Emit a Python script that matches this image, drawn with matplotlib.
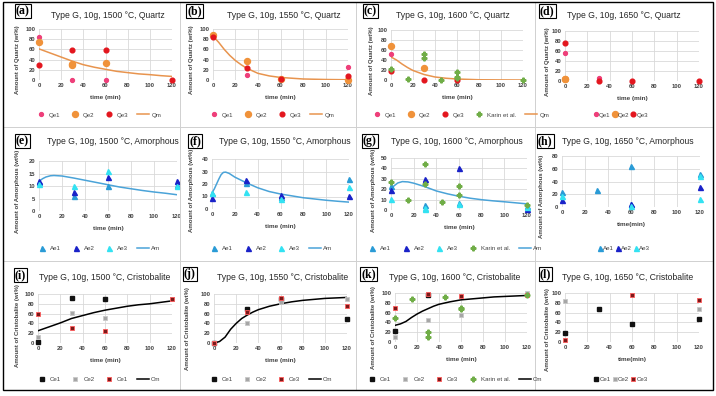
import matplotlib
matplotlib.use("Agg")
import matplotlib.pyplot as plt
from matplotlib.patches import Rectangle

W, H = 716, 396
plt.rcParams['font.family'] = ['Liberation Sans', 'DejaVu Sans']

# ---------------- data ----------------
x_ticks = [0, 20, 40, 60, 80, 100, 120]

# (a) Quartz 1500
a_qe1_t = [0, 30, 60];            a_qe1 = [84, 0, 0]
a_qe2_t = [0, 30, 30, 60];        a_qe2 = [74, 31, 29, 33.5]
a_qe3_t = [0, 30, 60, 120];       a_qe3 = [29, 58, 58, 0]
a_qm_t = [0, 10, 20, 30, 40, 50, 60, 70, 80, 90, 100, 110, 120]
a_qm = [61, 53, 45, 37, 30, 25, 21, 17, 14.5, 12, 10.5, 8.5, 7]

# (b) Quartz 1550
b_qe1_t = [0, 30, 120];           b_qe1 = [86, 10, 26]
b_qe2_t = [0, 30, 60, 120];       b_qe2 = [89, 37, 2, 0]
b_qe3_t = [0, 30, 60, 120];       b_qe3 = [84, 23, 1, 7]
b_qm_t = [0, 5, 10, 15, 20, 25, 30, 40, 50, 60, 80, 100, 120]
b_qm = [86, 74, 60, 48, 38, 30, 23, 13, 8, 5, 2, 1, 0.5]

# (c) Quartz 1600
c_qe1_t = [0];                    c_qe1 = [52]
c_qe2_t = [0, 30];                c_qe2 = [69, 25]
c_qe3_t = [0, 30, 60];            c_qe3 = [19, 0, 0]
c_kar_t = [0, 15, 30, 30, 45, 60, 60, 60, 120]
c_kar = [21.5, 2, 53, 44, 0, 16, 7, 4, 0]
c_qm_t = [0, 5, 10, 15, 20, 30, 40, 50, 60, 80, 100, 120]
c_qm = [46, 40, 32, 25, 19, 11, 6, 3.5, 2, 0.5, 0.2, 0]

# (d) Quartz 1650
d_qe1_t = [0, 30];                d_qe1 = [56, 6]
d_qe2_t = [0, 0];                 d_qe2 = [5, 3.5]
d_qe3_t = [0, 30, 60, 120];       d_qe3 = [75.5, 0.7, 0, 0]

# (e) Amorphous 1500
e_ae1_t = [0, 30, 60, 120];       e_ae1 = [11.6, 6, 10, 10.3]
e_ae2_t = [0, 30, 60, 120];       e_ae2 = [12.2, 7.8, 13.8, 12.1]
e_ae3_t = [0, 30, 60, 120];       e_ae3 = [11, 10, 16.2, 10]
e_am_t = [0, 3, 6, 10, 13, 20, 30, 40, 50, 60, 70, 80, 90, 100, 110, 120]
e_am = [11.8, 12.9, 13.6, 14.1, 14.2, 14.0, 13.2, 12.3, 11.4, 10.5, 9.6, 8.9, 8.2, 7.6, 7.1, 6.5]

# (f) Amorphous 1550
f_ae1_t = [0, 30, 60, 120];       f_ae1 = [12.7, 21, 10, 24]
f_ae2_t = [0, 30, 60, 120];       f_ae2 = [8.7, 23, 11.6, 10.6]
f_ae3_t = [0, 30, 60, 120];       f_ae3 = [13, 14, 8, 17.7]
f_am_t = [0, 2, 4, 6, 8, 10, 12, 15, 20, 30, 40, 50, 60, 70, 80, 90, 100, 110, 120]
f_am = [13, 16, 20, 24, 27.5, 29.3, 29.5, 28.5, 25.5, 21, 17, 14, 12, 10.5, 9, 8, 7, 6.2, 5.5]

# (g) Amorphous 1600
g_ae1_t = [0, 30, 60, 120];       g_ae1 = [23, 5, 7, 4]
g_ae2_t = [0, 30, 60, 120];       g_ae2 = [19, 30, 40, 1.3]
g_ae3_t = [0, 30, 30, 60, 120];   g_ae3 = [10.5, 0.7, 2.3, 6, 3]
g_kar_t = [0, 15, 30, 30, 45, 60, 60, 120]
g_kar = [27, 10, 44, 25, 7.5, 23, 14, 5]
g_am_t = [0, 3, 6, 10, 15, 20, 30, 40, 50, 60, 70, 80, 90, 100, 110, 120]
g_am = [20.5, 23.5, 26, 27.3, 27, 25.8, 22.4, 18.3, 15.5, 13.2, 11.3, 9.9, 8.8, 7.9, 6.9, 5.9]

# (h) Amorphous 1650
h_ae1_t = [0, 30, 60, 60, 120];   h_ae1 = [24, 26, 64, 5, 52]
h_ae2_t = [0, 60, 120];           h_ae2 = [11.5, 5, 31]
h_ae3_t = [0, 60, 120, 120];      h_ae3 = [18, 2, 12.5, 49]

# (i) Cristobalite 1500
i_ce1_t = [0, 30, 60];            i_ce1 = [2, 92.5, 89]
i_ce2_t = [0, 30, 60, 120];       i_ce2 = [12, 61, 51, 89]
i_ce3_t = [0, 30, 60, 120];       i_ce3 = [60, 31, 24.5, 89]
i_cm_t = [0, 10, 20, 30, 40, 50, 60, 70, 80, 90, 100, 110, 120]
i_cm = [25, 33, 41, 50, 56, 62, 67, 71, 75, 78, 80, 83, 86]

# (j) Cristobalite 1550
j_ce1_t = [0, 30, 60, 120];       j_ce1 = [1, 70, 90, 48]
j_ce2_t = [0, 30, 60, 120];       j_ce2 = [1, 40, 83, 89]
j_ce3_t = [0, 30, 60, 120];       j_ce3 = [1, 63, 91, 76]
j_cm_t = [0, 5, 10, 15, 20, 25, 30, 35, 40, 50, 60, 70, 80, 90, 100, 110, 120]
j_cm = [0, 3, 12, 28, 40, 50, 57, 63, 68, 75, 80, 84, 87, 89, 91, 92, 93]

# (k) Cristobalite 1600
k_ce1_t = [0, 30];                k_ce1 = [23, 96]
k_ce2_t = [0, 30, 60, 120];       k_ce2 = [10, 44, 56, 99]
k_ce3_t = [0, 30, 60, 120];       k_ce3 = [70, 98, 93, 95]
k_kar_t = [0, 15, 30, 30, 45, 60, 60, 120]
k_kar = [49, 88, 20, 11, 92, 70, 68, 95]
k_cm_t = [0, 5, 10, 15, 20, 25, 30, 35, 40, 50, 60, 70, 80, 90, 100, 110, 120]
k_cm = [34, 37, 42, 50, 57, 63, 68, 73, 77, 82, 86, 88, 90, 92, 93, 94, 95]

# (l) Cristobalite 1650
l_ce1_t = [0, 30, 60, 120];       l_ce1 = [19, 67, 36, 47]
l_ce2_t = [0, 120];               l_ce2 = [84, 67]
l_ce3_t = [0, 60, 120];           l_ce3 = [5, 96, 85]

# ---------------- styles ----------------
C_QE1, C_QE2, C_QE3, C_QM = '#EE3F7A', '#F0923A', '#E3161E', '#E8944E'
C_AE1, C_AE2, C_AE3, C_AM = '#2A9BD6', '#1A22C8', '#33E2F2', '#4AA3D8'
C_KAR = '#70AD47'
GRID = '#D9D9D9'
TXT = '#404040'

STY = {
    'Qe1': dict(marker='o', ms=2.8, mfc=C_QE1, mec=C_QE1),
    'Qe2': dict(marker='o', ms=4.3, mfc=C_QE2, mec=C_QE2),
    'Qe3': dict(marker='o', ms=3.4, mfc=C_QE3, mec=C_QE3),
    'Ae1': dict(marker='^', ms=3.6, mfc=C_AE1, mec=C_AE1),
    'Ae2': dict(marker='^', ms=3.6, mfc=C_AE2, mec=C_AE2),
    'Ae3': dict(marker='^', ms=3.6, mfc=C_AE3, mec=C_AE3),
    'Ce1': dict(marker='s', ms=3.4, mfc='#111111', mec='#111111'),
    'Ce2': dict(marker='s', ms=3.4, mfc='#A6A6A6', mec='#C8C8C8', mew=0.6),
    'Ce3': dict(marker='s', ms=3.4, mfc='#7A1A1A', mec='#FF5A5A', mew=0.6),
    'Kar': dict(marker='P', ms=3.4, mfc=C_KAR, mec=C_KAR),
}

fig = plt.figure(figsize=(W / 100, H / 100), dpi=100)


def fx(px):
    return px / W


def fy(py):
    return 1 - py / H


def make_ax(x0, x1, ytop, y0):
    return fig.add_axes([fx(x0), fy(y0), (x1 - x0) / W, (y0 - ytop) / H])


def setup(ax, ymax, ystep, ylabel, xlabel, title, tx, ty, lab, lx, ly, ylx, yly):
    ax.set_xlim(0, 120)
    ax.set_ylim(0, ymax)
    ax.set_xticks(x_ticks)
    ax.set_yticks(list(range(0, ymax + 1, ystep)))
    ax.grid(True, color=GRID, lw=0.6)
    ax.set_axisbelow(True)
    for s in ax.spines.values():
        s.set_visible(False)
    ax.tick_params(length=0, labelsize=4.2, colors=TXT, pad=2.5)
    for t in ax.get_xticklabels() + ax.get_yticklabels():
        t.set_fontweight('bold')
    ax.set_xlabel(xlabel, fontsize=4.6, fontweight='bold', color=TXT, labelpad=5)
    fig.text(fx(ylx), fy(yly), ylabel, rotation=90, ha='center', va='center',
             fontsize=4.3, fontweight='bold', color=TXT)
    fig.text(fx(tx), fy(ty), title, ha='center', va='center', fontsize=6.2,
             color='#262626')
    fig.text(fx(lx), fy(ly), lab, ha='left', va='center', fontsize=8.5,
             family=['Liberation Serif', 'DejaVu Serif'], fontweight='bold',
             bbox=dict(boxstyle='square,pad=0.08', fc='white', ec='black', lw=0.8))


def pts(ax, t, v, key, label):
    return ax.plot(t, v, ls='none', clip_on=False, label=label, zorder=3, **STY[key])[0]


def line(ax, t, v, color, label):
    return ax.plot(t, v, color=color, lw=1.1, label=label, zorder=2)[0]


def legend(handles, cx, cy, compact=False):
    if compact:
        fig.legend(handles=handles, loc='center', bbox_to_anchor=(fx(cx), fy(cy)),
                   ncol=len(handles), frameon=False, fontsize=4.4, handlelength=0.6,
                   handletextpad=0.2, columnspacing=0.4, labelcolor=TXT)
    else:
        fig.legend(handles=handles, loc='center', bbox_to_anchor=(fx(cx), fy(cy)),
                   ncol=len(handles), frameon=False, fontsize=4.4, handlelength=2.0,
                   handletextpad=0.3, columnspacing=1.4, labelcolor=TXT)


QL = 'Amount of Quartz (wt%)'
AL = 'Amount of Amorphous (wt%)'
CL = 'Amount of Cristobalite (wt%)'
TM = 'time (min)'

# ---- row 1: Quartz ----
ax = make_ax(39, 172, 29, 80)
setup(ax, 100, 20, QL, TM, 'Type G, 10g, 1500 °C, Quartz', 108, 15, '(a)', 16, 11, 18, 60)
h = [pts(ax, a_qe1_t, a_qe1, 'Qe1', 'Qe1'), pts(ax, a_qe2_t, a_qe2, 'Qe2', 'Qe2'),
     pts(ax, a_qe3_t, a_qe3, 'Qe3', 'Qe3'), line(ax, a_qm_t, a_qm, C_QM, 'Qm')]
legend(h, 98, 115)

ax = make_ax(213, 348, 29, 80)
setup(ax, 100, 20, QL, TM, 'Type G, 10g, 1550 °C, Quartz', 284, 15, '(b)', 187, 11, 191, 60)
h = [pts(ax, b_qe1_t, b_qe1, 'Qe1', 'Qe1'), pts(ax, b_qe2_t, b_qe2, 'Qe2', 'Qe2'),
     pts(ax, b_qe3_t, b_qe3, 'Qe3', 'Qe3'), line(ax, b_qm_t, b_qm, C_QM, 'Qm')]
legend(h, 271, 115)

ax = make_ax(391, 523, 30, 80)
setup(ax, 100, 20, QL, TM, 'Type G, 10g, 1600 °C, Quartz', 453, 15, '(c)', 364, 11, 371, 61)
h = [pts(ax, c_qe1_t, c_qe1, 'Qe1', 'Qe1'), pts(ax, c_qe2_t, c_qe2, 'Qe2', 'Qe2'),
     pts(ax, c_qe3_t, c_qe3, 'Qe3', 'Qe3'), pts(ax, c_kar_t, c_kar, 'Kar', 'Karin et al.'),
     line(ax, c_qm_t, c_qm, C_QM, 'Qm')]
legend(h, 460, 115)

ax = make_ax(565, 699, 31, 81)
setup(ax, 100, 20, QL, TM, 'Type G, 10g, 1650 °C, Quartz', 624, 15, '(d)', 540, 11, 547, 62)
h = [pts(ax, d_qe1_t, d_qe1, 'Qe1', 'Qe1'), pts(ax, d_qe2_t, d_qe2, 'Qe2', 'Qe2'),
     pts(ax, d_qe3_t, d_qe3, 'Qe3', 'Qe3')]
legend(h, 621, 115, compact=True)

# ---- row 2: Amorphous ----
ax = make_ax(39, 177, 161, 211)
setup(ax, 20, 5, AL, TM, 'Type G, 10g, 1500 °C, Amorphous', 113, 142, '(e)', 16, 141, 18, 191)
h = [pts(ax, e_ae1_t, e_ae1, 'Ae1', 'Ae1'), pts(ax, e_ae2_t, e_ae2, 'Ae2', 'Ae2'),
     pts(ax, e_ae3_t, e_ae3, 'Ae3', 'Ae3'), line(ax, e_am_t, e_am, C_AM, 'Am')]
legend(h, 98, 248)

ax = make_ax(212, 349, 159, 209)
setup(ax, 40, 10, AL, TM, 'Type G, 10g, 1550 °C, Amorphous', 285, 142, '(f)', 189, 141, 191, 190)
h = [pts(ax, f_ae1_t, f_ae1, 'Ae1', 'Ae1'), pts(ax, f_ae2_t, f_ae2, 'Ae2', 'Ae2'),
     pts(ax, f_ae3_t, f_ae3, 'Ae3', 'Ae3'), line(ax, f_am_t, f_am, C_AM, 'Am')]
legend(h, 270, 248)

ax = make_ax(391, 527, 158, 210)
setup(ax, 50, 10, AL, TM, 'Type G, 10g, 1600 °C, Amorphous', 457, 142, '(g)', 363, 141, 374, 190)
h = [pts(ax, g_ae1_t, g_ae1, 'Ae1', 'Ae1'), pts(ax, g_ae2_t, g_ae2, 'Ae2', 'Ae2'),
     pts(ax, g_ae3_t, g_ae3, 'Ae3', 'Ae3'), pts(ax, g_kar_t, g_kar, 'Kar', 'Karin et al.'),
     line(ax, g_am_t, g_am, C_AM, 'Am')]
legend(h, 454, 248)

ax = make_ax(562, 700, 156, 207)
setup(ax, 80, 20, AL, 'time(min)', 'Type G, 10g, 1650 °C, Amorphous', 628, 142, '(h)', 538, 141, 541, 196)
h = [pts(ax, h_ae1_t, h_ae1, 'Ae1', 'Ae1'), pts(ax, h_ae2_t, h_ae2, 'Ae2', 'Ae2'),
     pts(ax, h_ae3_t, h_ae3, 'Ae3', 'Ae3')]
legend(h, 624, 248, compact=True)

# ---- row 3: Cristobalite ----
ax = make_ax(38, 172, 294, 343)
setup(ax, 100, 20, CL, TM, 'Type G, 10g, 1500 °C, Cristobalite', 105, 277, '(i)', 15, 275, 18, 326)
h = [pts(ax, i_ce1_t, i_ce1, 'Ce1', 'Ce1'), pts(ax, i_ce2_t, i_ce2, 'Ce2', 'Ce2'),
     pts(ax, i_ce3_t, i_ce3, 'Ce3', 'Ce1'), line(ax, i_cm_t, i_cm, 'black', 'Cm')]
legend(h, 98, 379)

ax = make_ax(214, 347, 294, 343)
setup(ax, 100, 20, CL, TM, 'Type G, 10g, 1550 °C, Cristobalite', 283, 277, '(j)', 184, 274, 187, 329)
h = [pts(ax, j_ce1_t, j_ce1, 'Ce1', 'Ce1'), pts(ax, j_ce2_t, j_ce2, 'Ce2', 'Ce2'),
     pts(ax, j_ce3_t, j_ce3, 'Ce3', 'Ce3'), line(ax, j_cm_t, j_cm, 'black', 'Cm')]
legend(h, 270, 379)

ax = make_ax(395, 527, 293, 342)
setup(ax, 100, 20, CL, TM, 'Type G, 10g, 1600 °C, Cristobalite', 455, 277, '(k)', 361, 274, 374, 328)
h = [pts(ax, k_ce1_t, k_ce1, 'Ce1', 'Ce1'), pts(ax, k_ce2_t, k_ce2, 'Ce2', 'Ce2'),
     pts(ax, k_ce3_t, k_ce3, 'Ce3', 'Ce3'), pts(ax, k_kar_t, k_kar, 'Kar', 'Karin et al.'),
     line(ax, k_cm_t, k_cm, 'black', 'Cm')]
legend(h, 454, 379)

ax = make_ax(565, 699, 293, 342)
setup(ax, 100, 20, CL, 'time(min)', 'Type G, 10g, 1650 °C, Cristobalite', 628, 277, '(l)', 540, 274, 547, 330)
h = [pts(ax, l_ce1_t, l_ce1, 'Ce1', 'Ce1'), pts(ax, l_ce2_t, l_ce2, 'Ce2', 'Ce2'),
     pts(ax, l_ce3_t, l_ce3, 'Ce3', 'Ce3')]
legend(h, 621, 379, compact=True)

# ---- panel borders and outer frame ----
cols = [3, 180, 356, 535, 713]
rows = [2, 127, 261, 390]
for r in range(3):
    for c in range(4):
        fig.patches.append(Rectangle((fx(cols[c]), fy(rows[r + 1])),
                                     (cols[c + 1] - cols[c]) / W, (rows[r + 1] - rows[r]) / H,
                                     transform=fig.transFigure, fill=False,
                                     ec='#D0D0D0', lw=0.6, zorder=0))
fig.patches.append(Rectangle((fx(3), fy(390)), (713 - 3) / W, (390 - 2) / H,
                             transform=fig.transFigure, fill=False, ec='black', lw=1.0))

fig.savefig('out.png', dpi=100, facecolor='white')
